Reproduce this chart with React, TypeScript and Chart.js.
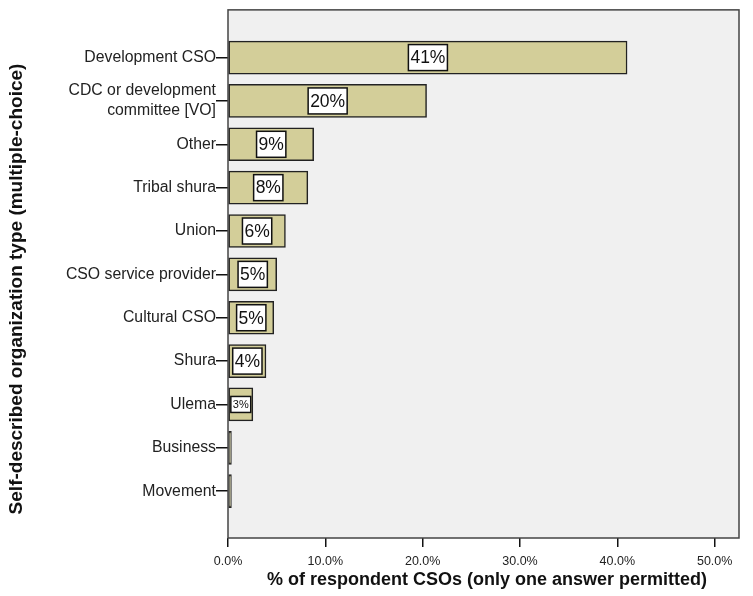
import React, { useEffect, useRef } from "react";
import { Chart, registerables } from "chart.js";

Chart.register(...registerables);

const categories: (string | string[])[] = [
  "Development CSO",
  ["CDC or development", "committee [VO]"],
  "Other",
  "Tribal shura",
  "Union",
  "CSO service provider",
  "Cultural CSO",
  "Shura",
  "Ulema",
  "Business",
  "Movement",
];
const values: number[] = [41.0, 20.4, 8.8, 8.2, 5.9, 5.0, 4.7, 3.9, 2.55, 0.35, 0.35];
const xTicks: number[] = [0, 10, 20, 30, 40, 50];
const xTitle = "% of respondent CSOs (only one answer permitted)";
const yTitle = "Self-described organization type (multiple-choice)";

const FONT = "Arial, 'Liberation Sans', sans-serif";

export default function App() {
  const ref = useRef<HTMLCanvasElement | null>(null);
  useEffect(() => {
    if (!ref.current) return;
    const bgPlugin = {
      id: "bgframe",
      beforeDatasetsDraw(chart: any) {
        const { ctx, chartArea: a } = chart;
        ctx.save();
        ctx.fillStyle = "#f0f0f0";
        ctx.fillRect(a.left, a.top, a.right - a.left, a.bottom - a.top);
        ctx.strokeStyle = "#444";
        ctx.lineWidth = 1.5;
        ctx.strokeRect(a.left, a.top, a.right - a.left, a.bottom - a.top);
        ctx.restore();
      },
      afterDatasetsDraw(chart: any) {
        const { ctx } = chart;
        const meta = chart.getDatasetMeta(0);
        ctx.save();
        meta.data.forEach((el: any, i: number) => {
          const v = values[i];
          if (v < 1) return;
          const w = Math.abs(el.x - el.base);
          const small = w < 30;
          const fs = small ? 11 : 17.5;
          const txt = Math.round(v) + "%";
          ctx.font = `${fs}px ${FONT}`;
          const tw = ctx.measureText(txt).width;
          const bw = tw + 4;
          const bh = small ? 16 : 26;
          const cx = (el.x + el.base) / 2;
          const cy = el.y;
          ctx.fillStyle = "#ffffff";
          ctx.fillRect(cx - bw / 2, cy - bh / 2, bw, bh);
          ctx.strokeStyle = "#111";
          ctx.lineWidth = 1.5;
          ctx.strokeRect(cx - bw / 2, cy - bh / 2, bw, bh);
          ctx.fillStyle = "#111";
          ctx.textAlign = "center";
          ctx.textBaseline = "middle";
          ctx.fillText(txt, cx, cy + 1);
        });
        ctx.fillStyle = "#111";
        ctx.textAlign = "center";
        ctx.textBaseline = "middle";
        ctx.font = `bold 18px ${FONT}`;
        ctx.fillText(xTitle, 487, 580);
        ctx.save();
        ctx.translate(17, 289);
        ctx.rotate(-Math.PI / 2);
        ctx.font = `bold 19px ${FONT}`;
        ctx.fillText(yTitle, 0, 0);
        ctx.restore();
        ctx.restore();
      },
    };
    const chart = new Chart(ref.current, {
      type: "bar",
      data: {
        datasets: [
          {
            data: values.map((v, i) => ({ x: v, y: i })),
            backgroundColor: "#d3ce99",
            borderColor: "#222",
            borderWidth: 1.5,
            barThickness: 33,
            borderSkipped: false,
          },
        ],
      },
      options: {
        indexAxis: "y",
        animation: false,
        responsive: false,
        layout: { padding: { top: 9, right: 14, left: 0, bottom: 0 } },
        plugins: { legend: { display: false }, tooltip: { enabled: false } },
        scales: {
          x: {
            type: "linear",
            min: 0,
            max: 52.5,
            offset: false,
            afterBuildTicks: (s: any) => {
              s.ticks = xTicks.map((v) => ({ value: v }));
            },
            afterFit: (s: any) => {
              s.height = 58;
            },
            ticks: {
              callback: (v: any) => Number(v).toFixed(1) + "%",
              color: "#222",
              font: { family: FONT, size: 12.5 },
              padding: 7,
              maxRotation: 0,
            },
            grid: { drawOnChartArea: false, tickLength: 9, color: "#111", lineWidth: 1.5, offset: false },
            border: { display: false },
          },
          y: {
            type: "linear",
            reverse: true,
            min: -1.1,
            max: 11.08,
            offset: false,
            afterBuildTicks: (s: any) => {
              s.ticks = categories.map((_, i) => ({ value: i }));
            },
            afterFit: (s: any) => {
              s.width = 228;
            },
            ticks: {
              callback: (v: any) => categories[v as number] ?? "",
              color: "#222",
              font: { family: FONT, size: 15.8, lineHeight: 1.25 },
              padding: 0,
              autoSkip: false,
            },
            grid: { drawOnChartArea: false, tickLength: 12, color: "#111", lineWidth: 1.5, offset: false },
            border: { display: false },
          },
        },
      },
      plugins: [bgPlugin],
    } as any);
    return () => chart.destroy();
  }, []);
  return (
    <div style={{ position: "fixed", left: 0, top: 0, width: 753, height: 596, background: "#fff" }}>
      <canvas ref={ref} width={753} height={596} style={{ width: 753, height: 596 }} />
    </div>
  );
}
